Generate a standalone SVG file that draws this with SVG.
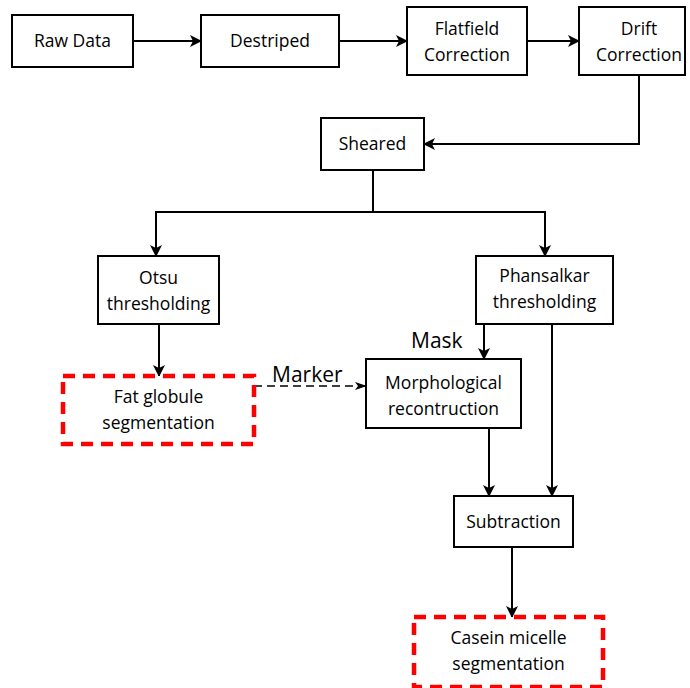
<svg xmlns="http://www.w3.org/2000/svg" width="690" height="688" viewBox="0 0 690 688">
<defs>
<marker id="ah" viewBox="0 0 12 12" refX="11" refY="6" markerWidth="12" markerHeight="12" markerUnits="userSpaceOnUse" orient="auto">
<path d="M0,0 L12,6 L0,12 L3,6 Z" fill="#000"/>
</marker>
<marker id="ahs" viewBox="0 0 12 8" refX="11" refY="4" markerWidth="12" markerHeight="8" markerUnits="userSpaceOnUse" orient="auto">
<path d="M0,0 L12,4 L0,8 L3,4 Z" fill="#000"/>
</marker>
<style>
.b{fill:#fff;stroke:#000;stroke-width:2}
.r{fill:#fff;stroke:#ff0000;stroke-width:4.5;stroke-dasharray:12 8}
.t{font-family:"Open Sans","DejaVu Sans",sans-serif;font-size:17.5px;fill:#000;text-anchor:middle}
.l{font-family:"Open Sans","DejaVu Sans",sans-serif;font-size:21px;fill:#000}
.c{fill:none;stroke:#000;stroke-width:2;marker-end:url(#ah)}
.d{fill:none;stroke:#000;stroke-width:1.5;stroke-dasharray:8 5;marker-end:url(#ahs)}
</style>
</defs>
<rect width="690" height="688" fill="#fff"/>
<g id="connectors">
<path class="c" d="M133,41 H201"/>
<path class="c" d="M339,41 H407"/>
<path class="c" d="M527,41 H579"/>
<path class="c" d="M639,75 V144 H424"/>
<path class="c" d="M373,170 V212 H156 V256"/>
<path class="c" d="M373,212 H545 V256"/>
<path class="c" d="M159,324 V376"/>
<path class="d" d="M254,386 H366"/>
<path class="c" d="M484,324 V359"/>
<path class="c" d="M489,428 V496"/>
<path class="c" d="M552,324 V496"/>
<path class="c" d="M512,547 V617"/>
<text class="l" x="272" y="382">Marker</text>
<text class="l" x="411" y="348">Mask</text>
</g>
<g id="raw"><rect class="b" x="12" y="15" width="121" height="52"/><text class="t" x="72.5" y="47">Raw Data</text></g>
<g id="destriped"><rect class="b" x="201" y="15" width="138" height="52"/><text class="t" x="270" y="47">Destriped</text></g>
<g id="flatfield"><rect class="b" x="407" y="7" width="120" height="68"/><text class="t" x="467" y="35">Flatfield</text><text class="t" x="467" y="61">Correction</text></g>
<g id="drift"><rect class="b" x="579" y="7" width="106" height="68"/><text class="t" x="639" y="35">Drift</text><text class="t" x="639" y="61">Correction</text></g>
<g id="sheared"><rect class="b" x="321" y="118" width="103" height="52"/><text class="t" x="372.5" y="150">Sheared</text></g>
<g id="otsu"><rect class="b" x="98" y="256" width="121" height="68"/><text class="t" x="158.5" y="284">Otsu</text><text class="t" x="158.5" y="310">thresholding</text></g>
<g id="phansalkar"><rect class="b" x="476" y="256" width="137" height="68"/><text class="t" x="544.5" y="282">Phansalkar</text><text class="t" x="544.5" y="308">thresholding</text></g>
<g id="fat"><rect class="r" x="63" y="376" width="191" height="68"/><text class="t" x="158.5" y="403">Fat globule</text><text class="t" x="158.5" y="429">segmentation</text></g>
<g id="morph"><rect class="b" x="366" y="359" width="155" height="69"/><text class="t" x="443.5" y="389">Morphological</text><text class="t" x="443.5" y="415">recontruction</text></g>
<g id="subtraction"><rect class="b" x="454" y="496" width="119" height="51"/><text class="t" x="513.5" y="528">Subtraction</text></g>
<g id="casein"><rect class="r" x="414" y="617" width="189" height="70"/><text class="t" x="508.5" y="644">Casein micelle</text><text class="t" x="508.5" y="670">segmentation</text></g>
</svg>
